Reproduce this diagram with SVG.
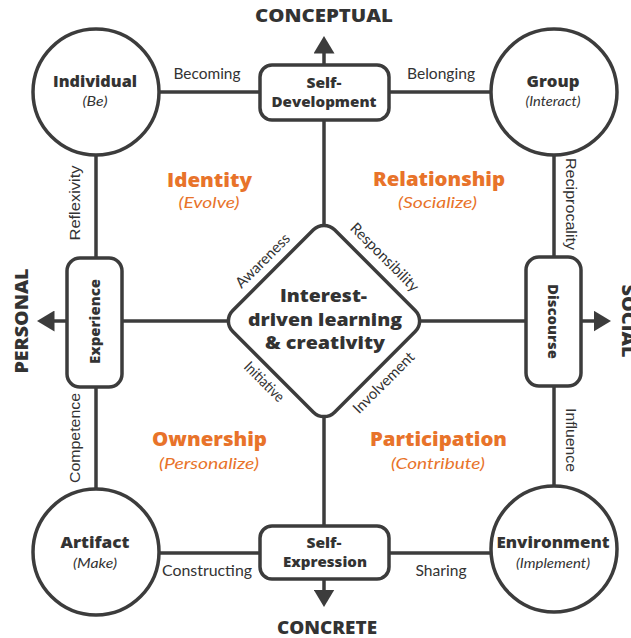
<svg xmlns="http://www.w3.org/2000/svg" width="631" height="638" viewBox="0 0 631 638">
<style>
  .ln{stroke:#3c3c3c;stroke-width:3.5;fill:none}
  .nd{stroke:#3c3c3c;stroke-width:3.5;fill:#fff}
  text{font-family:Lato,"Open Sans","DejaVu Sans",sans-serif;fill:#333;text-anchor:middle}
  .ax{font-family:"Open Sans",Lato,sans-serif;font-size:18px;font-weight:800}
  .nb{font-family:"Open Sans",Lato,sans-serif;font-size:15.5px;font-weight:800}
  .ni{font-size:14px;font-style:italic}
  .bx{font-family:"Open Sans",Lato,sans-serif;font-size:14px;font-weight:800}
  .el{font-size:15px}
  .es{font-family:"Liberation Sans",Arial,sans-serif;font-size:14.5px}
  .qb{font-family:"Open Sans",Lato,sans-serif;font-size:20px;font-weight:800;fill:#e8732a}
  .qi{font-size:16px;font-style:italic;fill:#e8732a}
  .dm{font-family:"Open Sans",Lato,sans-serif;font-size:17.5px;font-weight:800}
  .dl{font-size:15px}
</style>
<defs>
  <marker id="ah" markerWidth="6" markerHeight="6" refX="1" refY="3" orient="auto" markerUnits="strokeWidth">
    <path d="M0,0 L5,3 L0,6 Z" fill="#3c3c3c"/>
  </marker>
</defs>
<g id="connectors">
  <line class="ln" x1="324" y1="65" x2="324" y2="50" marker-end="url(#ah)"/>
  <line class="ln" x1="324" y1="120" x2="324" y2="230"/>
  <line class="ln" x1="324" y1="410" x2="324" y2="526"/>
  <line class="ln" x1="324" y1="579" x2="324" y2="593" marker-end="url(#ah)"/>
  <line class="ln" x1="67" y1="321" x2="51" y2="321" marker-end="url(#ah)"/>
  <line class="ln" x1="122" y1="321" x2="232" y2="321"/>
  <line class="ln" x1="416" y1="321" x2="526" y2="321"/>
  <line class="ln" x1="581" y1="321" x2="597" y2="321" marker-end="url(#ah)"/>
  <line class="ln" x1="159" y1="92" x2="260" y2="92"/>
  <line class="ln" x1="389" y1="92" x2="490" y2="92"/>
  <line class="ln" x1="159" y1="553" x2="260" y2="553"/>
  <line class="ln" x1="389" y1="553" x2="490" y2="553"/>
  <line class="ln" x1="96" y1="155" x2="96" y2="258"/>
  <line class="ln" x1="96" y1="387" x2="96" y2="489"/>
  <line class="ln" x1="554" y1="156" x2="554" y2="257"/>
  <line class="ln" x1="554" y1="386" x2="554" y2="485"/>
  <text class="el" x="207" y="79" textLength="67" lengthAdjust="spacingAndGlyphs">Becoming</text>
  <text class="el" x="441" y="79" textLength="68" lengthAdjust="spacingAndGlyphs">Belonging</text>
  <text class="el" x="207" y="576" textLength="90" lengthAdjust="spacingAndGlyphs">Constructing</text>
  <text class="el" x="441" y="576" textLength="51" lengthAdjust="spacingAndGlyphs">Sharing</text>
  <text class="es" transform="translate(80,203) rotate(-90)" textLength="75" lengthAdjust="spacingAndGlyphs">Reflexivity</text>
  <text class="es" transform="translate(80,438) rotate(-90)" textLength="90" lengthAdjust="spacingAndGlyphs">Competence</text>
  <text class="es" transform="translate(566,204) rotate(90)" textLength="92" lengthAdjust="spacingAndGlyphs">Reciprocality</text>
  <text class="es" transform="translate(566,440) rotate(90)" textLength="64" lengthAdjust="spacingAndGlyphs">Influence</text>
</g>
<g id="axes">
  <text class="ax" x="324" y="22" textLength="138" lengthAdjust="spacingAndGlyphs">CONCEPTUAL</text>
  <text class="ax" x="327" y="634" textLength="100" lengthAdjust="spacingAndGlyphs">CONCRETE</text>
  <text class="ax" transform="translate(28,321) rotate(-90)" textLength="105" lengthAdjust="spacingAndGlyphs">PERSONAL</text>
  <text class="ax" transform="translate(622,321) rotate(90)" textLength="73" lengthAdjust="spacingAndGlyphs">SOCIAL</text>
</g>
<g id="individual">
  <circle class="nd" cx="96" cy="92" r="63"/>
  <text class="nb" x="95" y="87" textLength="84" lengthAdjust="spacingAndGlyphs">Individual</text>
  <text class="ni" x="95" y="106" textLength="25" lengthAdjust="spacingAndGlyphs">(Be)</text>
</g>
<g id="group">
  <circle class="nd" cx="554" cy="92" r="63"/>
  <text class="nb" x="553" y="87" textLength="53" lengthAdjust="spacingAndGlyphs">Group</text>
  <text class="ni" x="553" y="106" textLength="55" lengthAdjust="spacingAndGlyphs">(Interact)</text>
</g>
<g id="artifact">
  <circle class="nd" cx="96" cy="552" r="63"/>
  <text class="nb" x="95" y="548" textLength="69" lengthAdjust="spacingAndGlyphs">Artifact</text>
  <text class="ni" x="95" y="568" textLength="44" lengthAdjust="spacingAndGlyphs">(Make)</text>
</g>
<g id="environment">
  <circle class="nd" cx="554" cy="549" r="63"/>
  <text class="nb" x="553" y="548" textLength="113" lengthAdjust="spacingAndGlyphs">Environment</text>
  <text class="ni" x="553" y="568" textLength="74" lengthAdjust="spacingAndGlyphs">(Implement)</text>
</g>
<g id="self-development">
  <rect class="nd" x="260" y="65" width="129" height="55" rx="12"/>
  <text class="bx" x="324" y="88" textLength="35" lengthAdjust="spacingAndGlyphs">Self-</text>
  <text class="bx" x="324" y="107" textLength="105" lengthAdjust="spacingAndGlyphs">Development</text>
</g>
<g id="self-expression">
  <rect class="nd" x="260" y="526" width="129" height="53" rx="12"/>
  <text class="bx" x="324" y="548" textLength="35" lengthAdjust="spacingAndGlyphs">Self-</text>
  <text class="bx" x="325" y="567" textLength="84" lengthAdjust="spacingAndGlyphs">Expression</text>
</g>
<g id="experience">
  <rect class="nd" x="67" y="258" width="55" height="129" rx="13"/>
  <text class="bx" transform="translate(99.5,321.5) rotate(-90)" textLength="85" lengthAdjust="spacingAndGlyphs">Experience</text>
</g>
<g id="discourse">
  <rect class="nd" x="526" y="257" width="55" height="129" rx="13"/>
  <text class="bx" transform="translate(548,321.5) rotate(90)" textLength="75" lengthAdjust="spacingAndGlyphs">Discourse</text>
</g>
<g id="center">
  <rect class="nd" x="-72" y="-72" width="144" height="144" rx="15" transform="translate(324,321) rotate(45)"/>
  <text class="dm" x="323.5" y="302" textLength="87" lengthAdjust="spacingAndGlyphs">Interest-</text>
  <text class="dm" x="325" y="325.5" textLength="154" lengthAdjust="spacingAndGlyphs">driven learning</text>
  <text class="dm" x="325" y="349" textLength="120" lengthAdjust="spacingAndGlyphs">&amp; creativity</text>
  <text class="dl" transform="translate(263.5,261.5) rotate(-45) translate(0,4)" textLength="70" lengthAdjust="spacingAndGlyphs">Awareness</text>
  <text class="dl" transform="translate(384,258) rotate(45) translate(0,4)" textLength="90" lengthAdjust="spacingAndGlyphs">Responsibility</text>
  <text class="dl" transform="translate(263.5,382.5) rotate(45) translate(0,4)" textLength="50" lengthAdjust="spacingAndGlyphs">Initiative</text>
  <text class="dl" transform="translate(384.5,383.5) rotate(-45) translate(0,4)" textLength="80" lengthAdjust="spacingAndGlyphs">Involvement</text>
</g>
<g id="quadrants">
  <text class="qb" x="209.5" y="187" textLength="85" lengthAdjust="spacingAndGlyphs">Identity</text>
  <text class="qi" x="209" y="208" textLength="61" lengthAdjust="spacingAndGlyphs">(Evolve)</text>
  <text class="qb" x="439" y="186" textLength="132" lengthAdjust="spacingAndGlyphs">Relationship</text>
  <text class="qi" x="437.5" y="208" textLength="79" lengthAdjust="spacingAndGlyphs">(Socialize)</text>
  <text class="qb" x="209.5" y="446" textLength="115" lengthAdjust="spacingAndGlyphs">Ownership</text>
  <text class="qi" x="209" y="469" textLength="100" lengthAdjust="spacingAndGlyphs">(Personalize)</text>
  <text class="qb" x="438.5" y="446" textLength="137" lengthAdjust="spacingAndGlyphs">Participation</text>
  <text class="qi" x="438" y="469" textLength="94" lengthAdjust="spacingAndGlyphs">(Contribute)</text>
</g>
</svg>
